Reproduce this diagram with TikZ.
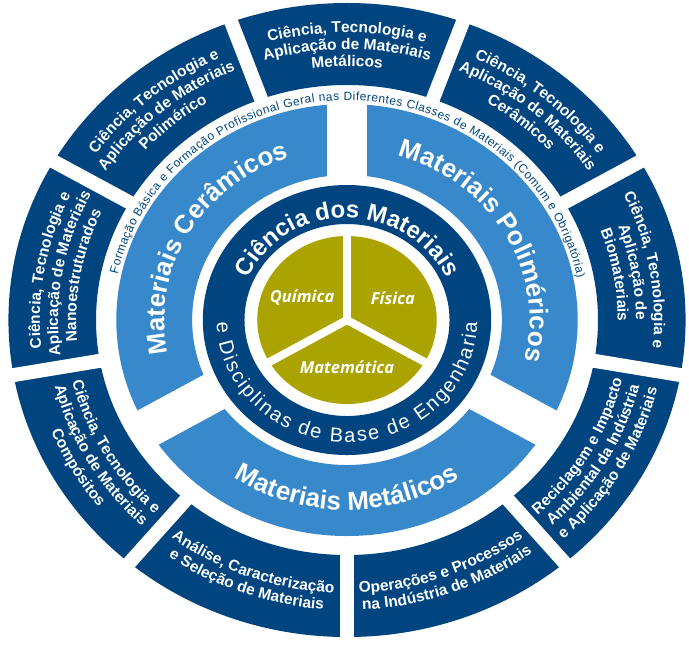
\documentclass[tikz,border=0pt]{standalone}
\usepackage{fontspec}
\setmainfont{Liberation Sans}
\setsansfont{Liberation Sans}
\newfontfamily\corefont{Open Sans}
\usetikzlibrary{decorations.text}
\definecolor{navy}{RGB}{0, 68, 128}
\definecolor{sky}{RGB}{56, 136, 204}
\definecolor{core}{RGB}{170, 163, 0}

\begin{document}
\begin{tikzpicture}[
    x=1pt, y=1pt, xscale=1.068,
    font=\sffamily,
    gapline/.style={draw=white, line width=#1},
    coretext/.style={
        text=white,
        font=\corefont\bfseries\itshape\fontsize{16.5}{16.5}\selectfont,
    },
    segtext/.style={
        decorate, decoration={text along path, text align=center,
            text color=white,
            text={|\sffamily\bfseries\fontsize{15.5}{15.5}\selectfont|#1}},
    },
    classtext/.style={
        decorate, decoration={text along path, text align=center,
            text color=white,
            text={|\sffamily\bfseries\fontsize{26}{26}\selectfont|#1}},
    },
    sciencetext/.style={
        decorate, decoration={text along path, text align=center,
            text color=white,
            text={|\sffamily\bfseries\fontsize{24}{24}\selectfont|#1}},
    },
    spreadtext/.style n args={3}{
        decorate, decoration={text along path, text align={fit to path},
            text color=#1,
            text={|\sffamily\fontsize{#2}{#2}\selectfont|#3}},
    },
]

\useasboundingbox (-324.9,-327) rectangle (320.2,320);

% =================================================
% Rings
% =================================================
\fill[navy, even odd rule] (0,0) circle[radius=317] (0,0) circle[radius=235];
\foreach \a in {70,30,-10,-50,-90,-130,-170,150,110}
    \draw[gapline=14] (0,0) -- (\a:335);

\fill[sky, even odd rule] (0,0) circle[radius=216] (0,0) circle[radius=145];
\foreach \a in {90,210,330}
    \draw[gapline=40] (0,0) -- (\a:226);

\fill[navy, even odd rule] (0,0) circle[radius=135] (0,0) circle[radius=96];

\fill[core] (0,0) circle[radius=84];
\foreach \a in {90,210,330}
    \draw[gapline=8] (0,0) -- (\a:90);

% =================================================
% Core
% =================================================
\node[coretext] (quimica)    at (-42, 22) {Química};
\node[coretext] (fisica)     at (43, 22)  {Física};
\node[coretext] (matematica) at (0, -47)  {Matemática};

\path[sciencetext={Ciência dos Materiais}]
    (165:102) arc[start angle=165, end angle=15, radius=102];
\path[spreadtext={white}{20}{e Disciplinas de Base de Engenharia}]
    (181:122) arc[start angle=181, end angle=359, radius=122];

% =================================================
% Material classes
% =================================================
\path[classtext={Materiais Cerâmicos}]
    (200:171) arc[start angle=200, end angle=100, radius=171];
\path[classtext={Materiais Poliméricos}]
    (80:171) arc[start angle=80, end angle=-20, radius=171];
\path[classtext={Materiais Metálicos}]
    (220:190) arc[start angle=220, end angle=320, radius=190];

\path[spreadtext={navy}{12}{Formação Básica e Formação Profissional Geral nas Diferentes Classes de Materiais (Comum e Obrigatória)}]
    (168:219.5) arc[start angle=168, end angle=11, radius=219.5];

% =================================================
% Outer ring, upper half
% =================================================
\path[segtext={Ciência, Tecnologia e}]  (120:287.5) arc[start angle=120, end angle=60, radius=287.5];
\path[segtext={Aplicação de Materiais}] (120:270.5) arc[start angle=120, end angle=60, radius=270.5];
\path[segtext={Metálicos}]              (120:253.5) arc[start angle=120, end angle=60, radius=253.5];

\path[segtext={Ciência, Tecnologia e}]  (80:287.5) arc[start angle=80, end angle=20, radius=287.5];
\path[segtext={Aplicação de Materiais}] (80:270.5) arc[start angle=80, end angle=20, radius=270.5];
\path[segtext={Cerâmicos}]              (80:253.5) arc[start angle=80, end angle=20, radius=253.5];

\path[segtext={Ciência, Tecnologia e}]  (40:287.5) arc[start angle=40, end angle=-20, radius=287.5];
\path[segtext={Aplicação de}]           (40:270.5) arc[start angle=40, end angle=-20, radius=270.5];
\path[segtext={Biomateriais}]           (40:253.5) arc[start angle=40, end angle=-20, radius=253.5];

\path[segtext={Ciência, Tecnologia e}]  (160:287.5) arc[start angle=160, end angle=100, radius=287.5];
\path[segtext={Aplicação de Materiais}] (160:270.5) arc[start angle=160, end angle=100, radius=270.5];
\path[segtext={Polimérico}]             (160:253.5) arc[start angle=160, end angle=100, radius=253.5];

\path[segtext={Ciência, Tecnologia e}]  (200:287.5) arc[start angle=200, end angle=140, radius=287.5];
\path[segtext={Aplicação de Materiais}] (200:270.5) arc[start angle=200, end angle=140, radius=270.5];
\path[segtext={Nanoestruturados}]       (200:253.5) arc[start angle=200, end angle=140, radius=253.5];

% =================================================
% Outer ring, lower half
% =================================================
\path[segtext={Reciclagem e Impacto}]     (-60:264.5) arc[start angle=-60, end angle=0, radius=264.5];
\path[segtext={Ambiental da Indústria}]   (-60:281.5) arc[start angle=-60, end angle=0, radius=281.5];
\path[segtext={e Aplicação de Materiais}] (-60:298.5) arc[start angle=-60, end angle=0, radius=298.5];

\path[segtext={Operações e Processos}]     (-100:273) arc[start angle=-100, end angle=-40, radius=273];
\path[segtext={na Indústria de Materiais}] (-100:290) arc[start angle=-100, end angle=-40, radius=290];

\path[segtext={Análise, Caracterização}] (-140:273) arc[start angle=-140, end angle=-80, radius=273];
\path[segtext={e Seleção de Materiais}]  (-140:290) arc[start angle=-140, end angle=-80, radius=290];

\path[segtext={Ciência, Tecnologia e}]  (-180:264.5) arc[start angle=-180, end angle=-120, radius=264.5];
\path[segtext={Aplicação de Materiais}] (-180:281.5) arc[start angle=-180, end angle=-120, radius=281.5];
\path[segtext={Compósitos}]             (-180:298.5) arc[start angle=-180, end angle=-120, radius=298.5];

\end{tikzpicture}
\end{document}
